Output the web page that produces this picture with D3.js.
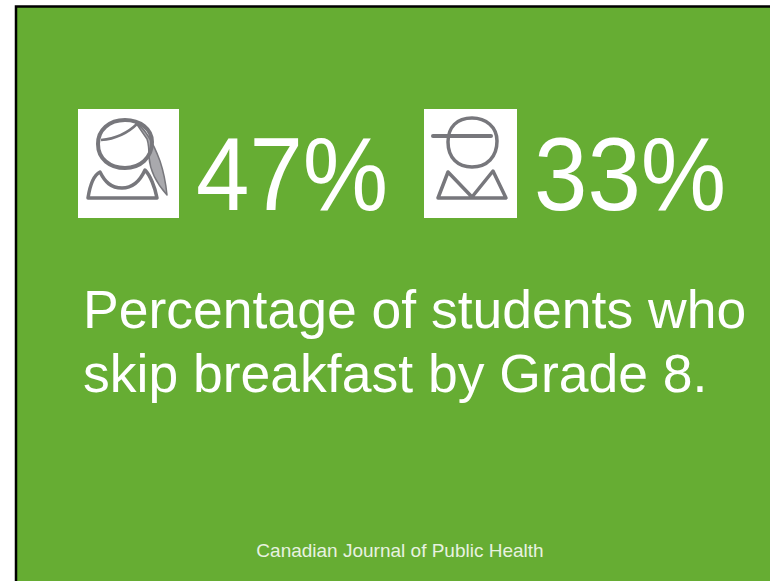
<!DOCTYPE html>
<html>
<head>
<meta charset="utf-8">
<script src="https://cdn.jsdelivr.net/npm/d3@7"></script>
<style>
  html, body { margin: 0; padding: 0; background: #fff; }
  svg { display: block; }
  text { font-family: "Liberation Sans", Arial, sans-serif; fill: #fff; }
</style>
</head>
<body>
<svg id="chart" width="770" height="581"></svg>
<script>
const groups = ["girls", "boys"];
const skipRates = [47, 33];
const captionLines = ["Percentage of students who", "skip breakfast by Grade 8."];
const sourceLabel = "Canadian Journal of Public Health";

const svg = d3.select("#chart");
const green = "#66ad33";

// Slide panel with a black rule on the top and left edges
svg.append("rect").attr("x", 16).attr("y", 6).attr("width", 754).attr("height", 575).attr("fill", green);
svg.append("path").attr("d", "M16,581V6.5H770").attr("fill", "none").attr("stroke", "#000").attr("stroke-width", 2.5);

const iconX = d3.scaleOrdinal().domain(groups).range([78, 424]);
const iconW = d3.scaleOrdinal().domain(groups).range([101, 93]);
const valueX = d3.scaleOrdinal().domain(groups).range([196, 534]);

const stroke = "#77777c";
const icon = svg.selectAll("g.icon").data(groups).join("g")
  .attr("class", "icon")
  .attr("transform", d => `translate(${iconX(d)},109)`);

icon.append("rect").attr("width", d => iconW(d)).attr("height", 109).attr("fill", "#fff");

// Person outlines: girl with ponytail, boy with a cap
const girl = icon.filter(d => d === "girls").append("g").attr("fill", "none").attr("stroke", stroke).attr("stroke-linejoin", "round");
girl.append("path").attr("stroke-width", 1.5).attr("fill", "#a9a9ad").attr("d", "M58,14C68,20 76,36 82,52C86,64 88,76 89,86C80,76 72,62 71,48C71,40 71,36 69,30Z");
girl.append("path").attr("stroke-width", 4).attr("d", "M47,11C31,11 20,21 20,35C20,50 32,59 47,59C62,59 74,49 74,33C74,20 62,11 47,11Z");
girl.append("path").attr("stroke-width", 2.5).attr("d", "M23,31C36,30 50,24 60,14");
girl.append("path").attr("stroke-width", 3.5).attr("d", "M10,89C12,76 16,66 22,63C27,73 33,79 44,79C55,79 62,72 67,61C72,66 77,78 79,89Z");

const boy = icon.filter(d => d === "boys").append("g").attr("fill", "none").attr("stroke", stroke).attr("stroke-linejoin", "round");
boy.append("path").attr("stroke-width", 3.5).attr("d", "M48,9C33,9 24,18 24,33C24,49 34,58 48,58C63,58 73,48 73,32C73,18 62,9 48,9Z");
boy.append("path").attr("stroke-width", 4).attr("stroke-linecap", "round").attr("d", "M9,27H67");
boy.append("path").attr("stroke-width", 3.5).attr("d", "M14,89L24,63L48,88L69,62L82,89Z");

// Percentages are set slightly tall, as on the slide
svg.selectAll("text.value").data(groups).join("text")
  .attr("class", "value")
  .attr("transform", d => `translate(${valueX(d)},210) scale(1,1.08)`)
  .attr("font-size", 96)
  .text((d, i) => `${skipRates[i]}%`);

svg.selectAll("text.caption").data(captionLines).join("text")
  .attr("class", "caption")
  .attr("x", 83)
  .attr("y", (d, i) => 328 + i * 64)
  .attr("font-size", 53.5)
  .text(d => d);

svg.append("text")
  .attr("x", 400).attr("y", 557)
  .attr("text-anchor", "middle")
  .attr("font-size", 19)
  .attr("opacity", 0.85)
  .text(sourceLabel);
</script>
</body>
</html>
